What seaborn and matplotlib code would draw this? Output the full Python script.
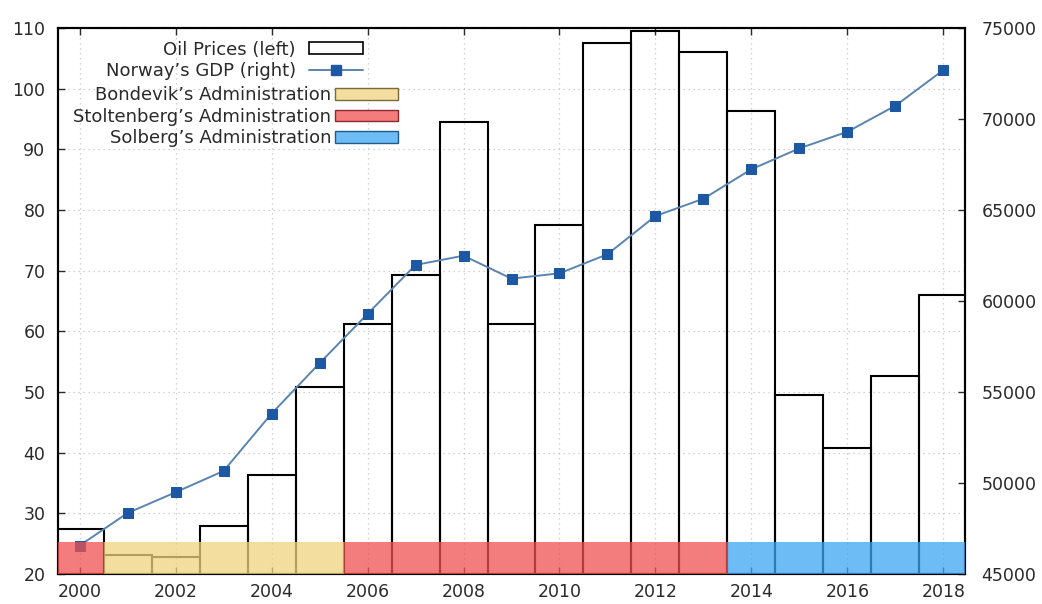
import numpy as np
import pandas as pd
import matplotlib
matplotlib.use("Agg")
import matplotlib.pyplot as plt
import seaborn as sns
from matplotlib.patches import Patch, Rectangle
from matplotlib.lines import Line2D

# ---- data ----
years = list(range(2000, 2019))
oil_prices = [27.4, 23.1, 22.8, 27.9, 36.3, 50.8, 61.2, 69.3, 94.5, 61.2,
              77.5, 107.6, 109.5, 106.0, 96.4, 49.5, 40.8, 52.6, 66.0]
norway_gdp = [46560, 48350, 49490, 50660, 53810, 56580, 59290, 61980, 62490, 61230,
              61520, 62570, 64670, 65620, 67240, 68390, 69300, 70730, 72690]
admin_names = ["Stoltenberg’s Administration", "Bondevik’s Administration",
               "Stoltenberg’s Administration", "Solberg’s Administration"]
admin_start = [2000, 2001, 2006, 2014]
admin_end = [2000, 2005, 2013, 2018]
legend_admins = ["Bondevik’s Administration", "Stoltenberg’s Administration",
                 "Solberg’s Administration"]

# ---- style ----
admin_colors = {"Bondevik’s Administration": "#EFD380",
                "Stoltenberg’s Administration": "#F05050",
                "Solberg’s Administration": "#3EA6F2"}
admin_legend_face = {"Bondevik’s Administration": "#F3DEA0",
                     "Stoltenberg’s Administration": "#F47C7C",
                     "Solberg’s Administration": "#6EBCF5"}
admin_legend_edge = {"Bondevik’s Administration": "#7a6a3a",
                     "Stoltenberg’s Administration": "#8a2a2a",
                     "Solberg’s Administration": "#1f5a8a"}
line_color = "#5a84b0"
marker_color = "#1c58a4"
text_color = "#2a2a2a"

sns.set_style("white")
plt.rcParams["font.family"] = ["DejaVu Sans"]
plt.rcParams["text.color"] = text_color

df = pd.DataFrame({"year": years, "oil": oil_prices, "gdp": norway_gdp})

fig = plt.figure(figsize=(10.42, 6.04), dpi=100)
ax = fig.add_axes([58 / 1042, 30 / 604, 907 / 1042, 546 / 604])
ax2 = ax.twinx()

# grid
ax.set_axisbelow(True)
ax.grid(True, color="#c4c4c4", linestyle=(0, (1, 3)), linewidth=0.9)

# oil price bars (unfilled)
sns.barplot(data=df, x="year", y="oil", native_scale=True, width=1.0,
            fill=False, color="black", linewidth=1.5, errorbar=None, ax=ax)

# GDP line
sns.lineplot(data=df, x="year", y="gdp", ax=ax2, color=line_color, linewidth=1.4,
             marker="s", markersize=7, markerfacecolor=marker_color,
             markeredgecolor=marker_color, legend=False)

# administration bands (drawn on top, in left-axis units)
band_bottom, band_top = 20, 25.3
for name, s, e in zip(admin_names, admin_start, admin_end):
    ax2.add_patch(Rectangle((s - 0.5, band_bottom), (e - s) + 1.0, band_top - band_bottom,
                            transform=ax.transData, facecolor=admin_colors[name],
                            edgecolor="none", alpha=0.75, zorder=5))

# axes limits & ticks
ax.set_xlim(1999.55, 2018.45)
ax.set_ylim(20, 110)
ax2.set_ylim(45000, 75000)
ax.set_xticks(range(2000, 2019, 2))
ax.set_yticks(range(20, 111, 10))
ax2.set_yticks(range(45000, 75001, 5000))
ax.set_xlabel("")
ax.set_ylabel("")
ax2.set_ylabel("")

ax.tick_params(axis="x", direction="in", length=5, width=1, top=True, bottom=True,
               labelsize=12.5, pad=6.5, colors=text_color)
ax.tick_params(axis="y", direction="in", length=5, width=1, left=True, right=False,
               labelsize=12.5, pad=9, colors=text_color)
ax2.tick_params(axis="y", direction="in", length=5, width=1, right=True,
                labelsize=12.5, pad=12, colors=text_color)
for a in (ax, ax2):
    for sp in a.spines.values():
        sp.set_visible(True)
        sp.set_color("black")
        sp.set_linewidth(1.5)

# legends
h1 = [Patch(facecolor="white", edgecolor="black", linewidth=1.2),
      Line2D([], [], color=line_color, lw=1.4, marker="s", markersize=7,
             markerfacecolor=marker_color, markeredgecolor=marker_color)]
leg1 = ax2.legend(h1, ["Oil Prices (left)", "Norway’s GDP (right)"],
                  loc="upper right", bbox_to_anchor=(0.336, 0.977),
                  frameon=False, markerfirst=False, fontsize=13,
                  handlelength=3.0, handleheight=0.6, handletextpad=0.7,
                  labelspacing=0.19, borderpad=0, borderaxespad=0)
ax2.add_artist(leg1)
h2 = [Patch(facecolor=admin_legend_face[n], edgecolor=admin_legend_edge[n], linewidth=1.0)
      for n in legend_admins]
leg2 = ax2.legend(h2, legend_admins, loc="upper right", bbox_to_anchor=(0.375, 0.893),
                  frameon=False, markerfirst=False, fontsize=13,
                  handlelength=3.5, handleheight=0.6, handletextpad=0.2,
                  labelspacing=0.19, borderpad=0, borderaxespad=0)

fig.savefig("out.png", dpi=100)
